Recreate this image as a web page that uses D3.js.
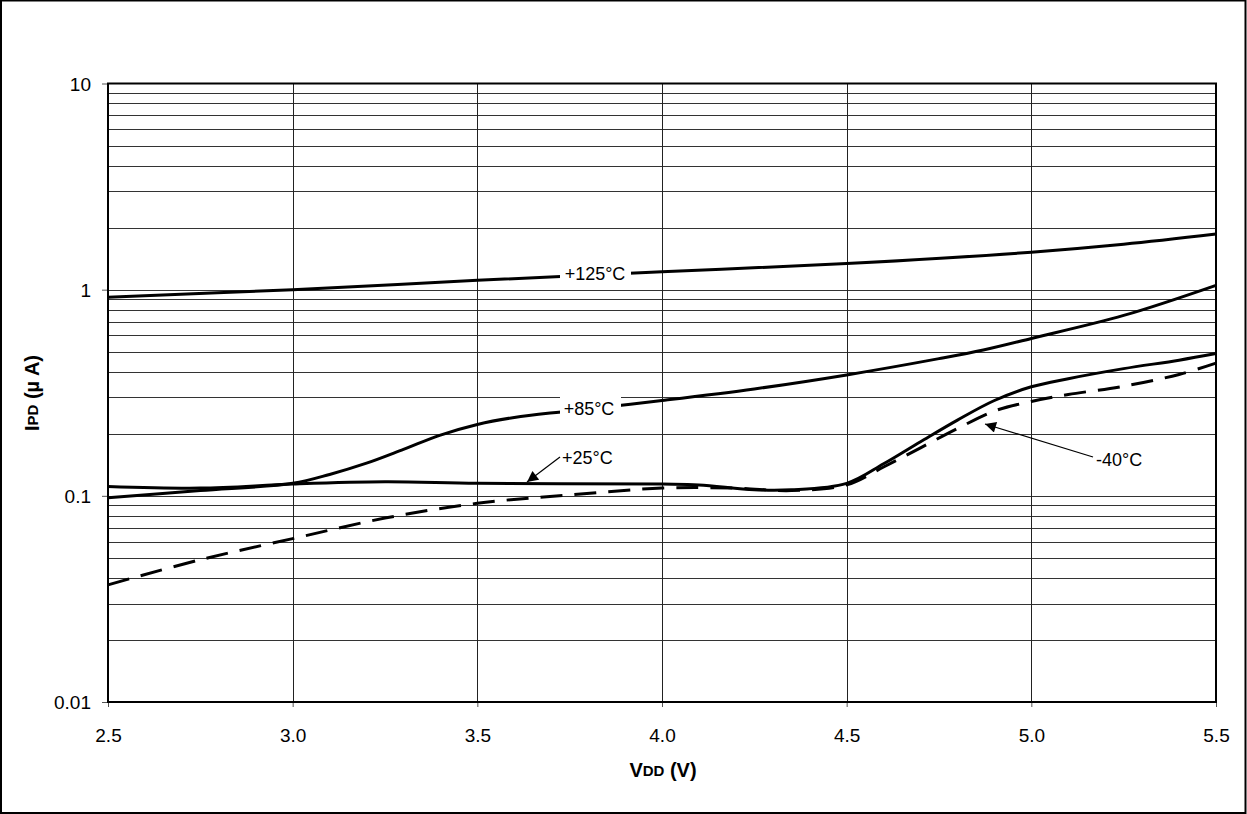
<!DOCTYPE html>
<html>
<head>
<meta charset="utf-8">
<script src="https://cdn.jsdelivr.net/npm/d3@7"></script>
<style>
  html, body { margin: 0; padding: 0; background: #fff; }
  svg { display: block; font-family: Arial, "Liberation Sans", sans-serif; }
</style>
</head>
<body>
<svg id="chart" width="1247" height="814"></svg>
<script>
// ---- data (VDD in volts, IPD in µA) ----
const vdd125 = [2.5, 3.0, 3.5, 4.0, 4.5, 5.0, 5.25, 5.5];
const ipd125 = [0.92, 1.0, 1.11, 1.22, 1.34, 1.52, 1.66, 1.86];

const vdd85 = [2.5, 2.75, 3.0, 3.1, 3.2, 3.3, 3.4, 3.5, 3.6, 3.75, 4.0, 4.25, 4.5, 4.75, 4.87, 5.0, 5.25, 5.5];
const ipd85 = [0.098, 0.106, 0.115, 0.127, 0.144, 0.168, 0.197, 0.222, 0.24, 0.258, 0.29, 0.33, 0.386, 0.463, 0.51, 0.58, 0.75, 1.05];

const vdd25 = [2.5, 2.75, 3.0, 3.25, 3.5, 4.0, 4.1, 4.25, 4.35, 4.5, 4.6, 4.7, 4.8, 4.9, 5.0, 5.1, 5.25, 5.4, 5.5];
const ipd25 = [0.111, 0.109, 0.114, 0.117, 0.115, 0.114, 0.113, 0.107, 0.107, 0.115, 0.143, 0.183, 0.233, 0.29, 0.338, 0.37, 0.414, 0.455, 0.49];

const vddM40 = [2.5, 2.75, 3.0, 3.25, 3.5, 3.75, 4.0, 4.2, 4.35, 4.5, 4.6, 4.7, 4.8, 4.9, 5.0, 5.1, 5.25, 5.4, 5.5];
const ipdM40 = [0.037, 0.049, 0.062, 0.078, 0.092, 0.101, 0.109, 0.109, 0.106, 0.113, 0.138, 0.171, 0.212, 0.258, 0.287, 0.31, 0.34, 0.388, 0.44];

const xTicks = [2.5, 3.0, 3.5, 4.0, 4.5, 5.0, 5.5];
const xTickLabels = ["2.5", "3.0", "3.5", "4.0", "4.5", "5.0", "5.5"];
const yTicks = [0.01, 0.1, 1, 10];
const yTickLabels = ["0.01", "0.1", "1", "10"];
const seriesLabels = ["+125°C", "+85°C", "+25°C", "-40°C"];

// ---- layout ----
const svg = d3.select("#chart");
const L = 108, R = 1216, T = 83.5, B = 702;
const FONT = "Arial, 'Liberation Sans', sans-serif";
const x = d3.scaleLinear().domain([2.5, 5.5]).range([L, R]);
const y = d3.scaleLog().domain([0.01, 10]).range([B, T]);

// outer frame
svg.append("rect").attr("x", 1).attr("y", 0.5).attr("width", 1244.5).attr("height", 812.5)
  .attr("fill", "none").attr("stroke", "#000").attr("stroke-width", 2);

// minor + major horizontal grid
const hGrid = [];
for (let d = 0.01; d < 10; d *= 10) {
  for (let k = 1; k <= 9; k++) hGrid.push(+(d * k).toPrecision(3));
}
const grid = svg.append("g");
grid.selectAll("line.h").data(hGrid.filter(v => v > 0.01)).join("line")
  .attr("x1", L).attr("x2", R)
  .attr("y1", d => Math.round(y(d)) + 0.5).attr("y2", d => Math.round(y(d)) + 0.5)
  .attr("stroke", "#333").attr("stroke-width", 1);
grid.selectAll("line.v").data(xTicks.slice(1, -1)).join("line")
  .attr("y1", T).attr("y2", B)
  .attr("x1", d => Math.round(x(d)) + 0.5).attr("x2", d => Math.round(x(d)) + 0.5)
  .attr("stroke", "#222").attr("stroke-width", 1);

// axes
const xAxis = d3.axisBottom(x).tickValues(xTicks).tickFormat((d, i) => xTickLabels[i])
  .tickSizeInner(5).tickSizeOuter(0).tickPadding(0);
const gx = svg.append("g").attr("transform", `translate(0,${B})`).call(xAxis);
gx.attr("font-size", null).attr("font-family", null);
gx.select(".domain").remove();
gx.selectAll("line").attr("stroke", "#555");
gx.selectAll("text").attr("font-size", 19).attr("fill", "#000").attr("font-family", FONT)
  .attr("dy", null).attr("y", 33).attr("dominant-baseline", "central");

const yAxis = d3.axisLeft(y).tickValues(yTicks).tickFormat((d, i) => yTickLabels[i])
  .tickSizeInner(6).tickSizeOuter(0).tickPadding(11);
const gy = svg.append("g").attr("transform", `translate(${L},0)`).call(yAxis);
gy.attr("font-size", null).attr("font-family", null);
gy.select(".domain").remove();
gy.selectAll("line").attr("stroke", "#555");
gy.selectAll("text").attr("font-size", 19).attr("fill", "#000").attr("font-family", FONT)
  .attr("dy", null).attr("x", -17).attr("dominant-baseline", "central");

// plot border
svg.append("rect").attr("x", L).attr("y", T).attr("width", R - L).attr("height", B - T)
  .attr("fill", "none").attr("stroke", "#000").attr("stroke-width", 2);

// curves
const line = d3.line().x(d => x(d[0])).y(d => y(d[1])).curve(d3.curveCatmullRom.alpha(0.5));
const curves = [
  { vx: vdd125, vy: ipd125, dash: null },
  { vx: vdd85, vy: ipd85, dash: null },
  { vx: vddM40, vy: ipdM40, dash: "22,12" },
  { vx: vdd25, vy: ipd25, dash: null }
];
const cg = svg.append("g");
curves.forEach(c => {
  cg.append("path").datum(c.vx.map((v, i) => [v, c.vy[i]]))
    .attr("d", line).attr("fill", "none").attr("stroke", "#000")
    .attr("stroke-width", 3).attr("stroke-dasharray", c.dash);
});

// labels with white boxes
const lab = svg.append("g").attr("font-size", 18).attr("fill", "#000");
function boxLabel(text, cx, cy, bx0, bx1, by0, by1) {
  lab.append("rect").attr("x", bx0).attr("y", by0).attr("width", bx1 - bx0).attr("height", by1 - by0).attr("fill", "#fff");
  lab.append("text").attr("x", cx).attr("y", cy).attr("text-anchor", "middle")
    .attr("dominant-baseline", "central").text(text);
}
boxLabel(seriesLabels[0], 595, 274, 560, 631, 262, 287);
boxLabel(seriesLabels[1], 589, 409, 560, 621, 396, 423);

// arrow labels
const defs = svg.append("defs");
defs.append("marker").attr("id", "ah").attr("viewBox", "0 0 10 10").attr("refX", 10).attr("refY", 5)
  .attr("markerWidth", 13).attr("markerHeight", 11).attr("markerUnits", "userSpaceOnUse")
  .attr("orient", "auto")
  .append("path").attr("d", "M0,0 L10,5 L0,10 z").attr("fill", "#000");

function arrowLabel(text, tx, ty, anchor, x1, y1, x2, y2) {
  lab.append("line").attr("x1", x1).attr("y1", y1).attr("x2", x2).attr("y2", y2)
    .attr("stroke", "#000").attr("stroke-width", 1.2).attr("marker-end", "url(#ah)");
  lab.append("text").attr("x", tx).attr("y", ty).attr("text-anchor", anchor)
    .attr("dominant-baseline", "central").text(text);
}
arrowLabel(seriesLabels[2], 562, 458, "start", 560, 457, 527, 482);
arrowLabel(seriesLabels[3], 1096, 460, "start", 1093, 457, 985, 424);

// axis titles
const xt = svg.append("text").attr("x", 663).attr("y", 770).attr("text-anchor", "middle")
  .attr("dominant-baseline", "central").attr("font-weight", "bold").attr("font-size", 20);
xt.append("tspan").text("V");
xt.append("tspan").attr("font-size", 15).text("DD");
xt.append("tspan").text(" (V)");

const yt = svg.append("text").attr("transform", "translate(32,393) rotate(-90)")
  .attr("text-anchor", "middle").attr("dominant-baseline", "central")
  .attr("font-weight", "bold").attr("font-size", 20);
yt.append("tspan").text("I");
yt.append("tspan").attr("font-size", 15).text("PD");
yt.append("tspan").text(" (µ A)");
</script>
</body>
</html>
